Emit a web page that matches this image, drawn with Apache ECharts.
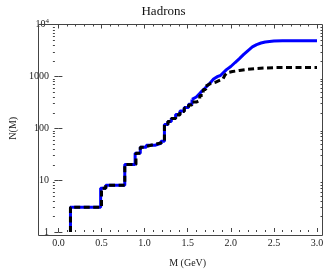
<!DOCTYPE html>
<html><head><meta charset="utf-8">
<script src="https://cdn.jsdelivr.net/npm/echarts@6/dist/echarts.min.js"></script>
<style>html,body{margin:0;padding:0;background:#fff}#c{width:327px;height:273px}</style>
</head><body><div id="c"></div>
<script>
// ---- data ----
const blueStepM = [0.14, 0.14, 0.49, 0.55, 0.77, 0.89, 0.95, 1.02, 1.12, 1.19, 1.23, 1.27, 1.31, 1.36, 1.41, 1.46, 1.51, 1.55];
const blueStepN = [1, 3, 7, 8, 20, 33, 43, 47, 51, 56, 118, 135, 155, 185, 215, 250, 290, 360];
const blueTailM = [1.55, 1.60, 1.65, 1.70, 1.75, 1.80, 1.85, 1.88, 1.90, 1.95, 2.00, 2.05, 2.10, 2.15, 2.20, 2.25, 2.30, 2.35, 2.40, 2.45, 2.50, 2.60, 3.00];
const blueTailN = [360, 400, 490, 590, 715, 890, 1000, 1040, 1120, 1350, 1550, 1850, 2200, 2650, 3150, 3700, 4100, 4400, 4600, 4720, 4800, 4850, 4850];

const blackStepM = [0.14, 0.14, 0.50, 0.55, 0.77, 0.90, 0.95, 1.00, 1.05, 1.12, 1.19, 1.23, 1.27, 1.31, 1.36, 1.41, 1.46, 1.51, 1.55, 1.60, 1.64, 1.68, 1.71];
const blackStepN = [1, 3, 7, 8, 20, 33, 43, 46, 49, 52, 56, 118, 135, 155, 180, 210, 245, 280, 320, 345, 430, 560, 650];
const blackTailM = [1.71, 1.76, 1.82, 1.88, 1.91, 1.93, 1.96, 2.02, 2.10, 2.20, 2.30, 2.40, 2.50, 3.00];
const blackTailN = [650, 720, 770, 850, 890, 1050, 1180, 1240, 1300, 1370, 1420, 1450, 1475, 1480];

const xTickLabels = ['0.0', '0.5', '1.0', '1.5', '2.0', '2.5', '3.0'];
const yTickLabels = {1: '1', 10: '10', 100: '100', 1000: '1000', 10000: '{b|10}{s|4}'};
const decades = [1, 10, 100, 1000];

// ---- build ----
const zip = (a, b) => a.map((v, i) => [v, b[i]]);
const minorVals = [];
decades.forEach(d => { for (let k = 2; k <= 9; k++) minorVals.push(k * d); });

const FONT = 'Liberation Serif';
const TICK = '#444';
const GL = 44, GR = 10, GT = 24.5, GB = 37.5, OFF = 5.5;

const xBase = {
  type: 'value', min: 0, max: 3, interval: 0.5,
  axisLine: {show: false},
  splitLine: {show: false},
  axisTick: {inside: true, length: 4, lineStyle: {color: TICK}},
  minorTick: {show: true, splitNumber: 5, length: 2, lineStyle: {color: TICK}},
  minorSplitLine: {show: false}
};
const yBase = {
  type: 'log', logBase: 10, min: 1, max: 10000, offset: OFF,
  axisLine: {show: false},
  splitLine: {show: false},
  axisTick: {inside: true, length: 4, lineStyle: {color: TICK}}
};

const chart = echarts.init(document.getElementById('c'), null, {renderer: 'canvas'});
chart.setOption({
  animation: false,
  backgroundColor: '#fff',
  title: {
    text: 'Hadrons', left: 'center', top: 0,
    textStyle: {fontFamily: FONT, fontSize: 13, fontWeight: 'normal', color: '#111'}
  },
  grid: {left: GL, right: GR, top: GT, bottom: GB, containLabel: false},
  xAxis: [
    Object.assign({}, xBase, {
      position: 'bottom',
      axisLabel: {
        formatter: v => xTickLabels[Math.round(v / 0.5)] || '',
        fontFamily: FONT, fontSize: 10, color: '#222', margin: 6
      },
      name: 'M (GeV)', nameLocation: 'middle', nameGap: 26,
      nameTextStyle: {fontFamily: FONT, fontSize: 10, color: '#222'}
    }),
    Object.assign({}, xBase, {position: 'top', axisLabel: {show: false}})
  ],
  yAxis: [
    Object.assign({}, yBase, {
      position: 'left',
      axisLabel: {
        formatter: v => yTickLabels[Math.round(v)] || '',
        fontFamily: FONT, fontSize: 10, color: '#222', margin: 4,
        rich: {
          b: {fontFamily: FONT, fontSize: 10, color: '#222', lineHeight: 14},
          s: {fontFamily: FONT, fontSize: 7, color: '#222', lineHeight: 8, verticalAlign: 'top'}
        }
      },
      name: 'N(M)', nameLocation: 'middle', nameGap: 34, nameRotate: 90,
      nameTextStyle: {fontFamily: FONT, fontSize: 10, color: '#222'}
    }),
    Object.assign({}, yBase, {position: 'right', axisLabel: {show: false}})
  ],
  graphic: [{
    type: 'rect', z: 100, silent: true,
    shape: {x: GL - OFF, y: GT, width: 327 - GL - GR + 2 * OFF, height: 273 - GT - GB},
    style: {fill: 'none', stroke: TICK, lineWidth: 1}
  }],
  series: [
    {
      type: 'custom', silent: true, clip: false, xAxisIndex: 0, yAxisIndex: 0,
      data: minorVals.map(v => [0, v]),
      renderItem: (params, api) => {
        const y = Math.round(api.coord([0, api.value(1)])[1]) + 0.5;
        const L = params.coordSys.x - OFF, R = params.coordSys.x + params.coordSys.width + OFF;
        return {type: 'group', children: [
          {type: 'line', shape: {x1: L, y1: y, x2: L + 2, y2: y}, style: {stroke: TICK, lineWidth: 1}},
          {type: 'line', shape: {x1: R - 2, y1: y, x2: R, y2: y}, style: {stroke: TICK, lineWidth: 1}}
        ]};
      }
    },
    {type: 'line', step: 'end', data: zip(blueStepM, blueStepN), showSymbol: false, symbol: 'none',
     lineStyle: {color: '#0000ff', width: 3}, z: 3},
    {type: 'line', data: zip(blueTailM, blueTailN), showSymbol: false, symbol: 'none',
     lineStyle: {color: '#0000ff', width: 3}, z: 3},
    {type: 'line', step: 'end', data: zip(blackStepM, blackStepN), showSymbol: false, symbol: 'none',
     lineStyle: {color: '#000', width: 3, type: [6, 3.5]}, z: 4},
    {type: 'line', data: zip(blackTailM, blackTailN), showSymbol: false, symbol: 'none',
     lineStyle: {color: '#000', width: 3, type: [6, 3.5]}, z: 4}
  ]
});
</script></body></html>
